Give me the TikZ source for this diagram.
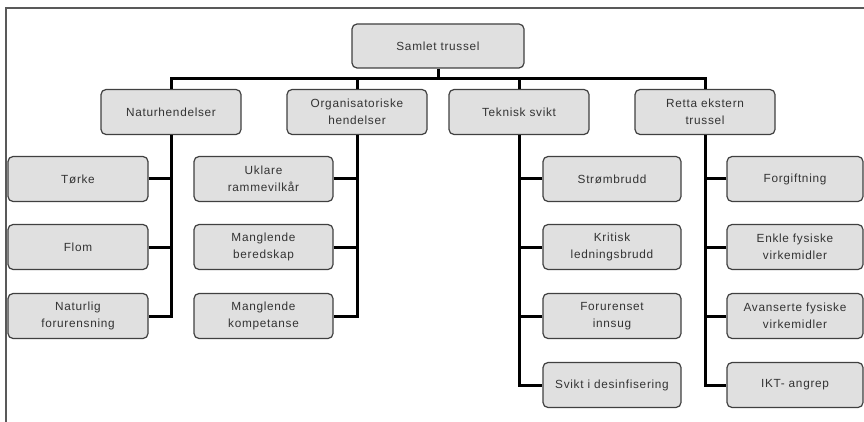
\documentclass[tikz,border=0pt]{standalone}
\usepackage{fontspec}
\setmainfont{Liberation Sans}[LetterSpace=6]
\begin{document}
\begin{tikzpicture}[x=1pt,y=-1pt,
  box/.style={draw=black!75, line width=1.2pt, fill=black!12, rounded corners=5pt,
    minimum width=140pt, minimum height=45pt, inner sep=0pt, align=center,
    text width=136pt, text=black!80, font=\fontsize{11.8}{17.5}\selectfont},
  conn/.style={line width=3pt, black}]
\useasboundingbox (0,0) rectangle (864,422);
\draw[black!65, line width=1.3pt] (6,422) -- (6,8) -- (864,8);
% root
\node[box, minimum width=172pt, text width=168pt, minimum height=44pt] (root) at (438,46) {Samlet trussel};
% level 1
\node[box] (nat) at (171,112) {Naturhendelser};
\node[box] (org) at (357,112) {Organisatoriske\\hendelser};
\node[box] (tek) at (519,112) {Teknisk svikt};
\node[box] (ret) at (705,112) {Retta ekstern\\trussel};
% level 2
\node[box] (nat1) at (78,179) {Tørke};
\node[box] (nat2) at (78,247) {Flom};
\node[box] (nat3) at (78,316) {Naturlig\\forurensning};
\node[box, minimum width=139pt] (org1) at (263.5,179) {Uklare\\rammevilkår};
\node[box, minimum width=139pt] (org2) at (263.5,247) {Manglende\\beredskap};
\node[box, minimum width=139pt] (org3) at (263.5,316) {Manglende\\kompetanse};
\node[box, minimum width=138pt] (tek1) at (612,179) {Strømbrudd};
\node[box, minimum width=138pt] (tek2) at (612,247) {Kritisk\\ledningsbrudd};
\node[box, minimum width=138pt] (tek3) at (612,316) {Forurenset\\innsug};
\node[box, minimum width=138pt] (tek4) at (612,385) {Svikt i desinfisering};
\node[box, minimum width=134pt] (ret1) at (795,179) {Forgiftning};
\node[box, minimum width=134pt] (ret2) at (795,247) {Enkle fysiske\\virkemidler};
\node[box, minimum width=134pt] (ret3) at (795,316) {Avanserte fysiske\\virkemidler};
\node[box, minimum width=134pt] (ret4) at (795,385) {IKT- angrep};
\coordinate (bar) at (0,79);
% connectors
\draw[conn] (root.south) -- (root.south |- bar);
\draw[conn] (nat.north) -- (nat.north |- bar) -- (ret.north |- bar) -- (ret.north);
\draw[conn] (org.north) -- (org.north |- bar);
\draw[conn] (tek.north) -- (tek.north |- bar);
\draw[conn] (nat.south) |- (nat3.east);
\draw[conn] (nat1.east) -- (nat1.east -| nat.south);
\draw[conn] (nat2.east) -- (nat2.east -| nat.south);
\draw[conn] (org.south) |- (org3.east);
\draw[conn] (org1.east) -- (org1.east -| org.south);
\draw[conn] (org2.east) -- (org2.east -| org.south);
\draw[conn] (tek.south) |- (tek4.west);
\draw[conn] (tek1.west) -- (tek1.west -| tek.south);
\draw[conn] (tek2.west) -- (tek2.west -| tek.south);
\draw[conn] (tek3.west) -- (tek3.west -| tek.south);
\draw[conn] (ret.south) |- (ret4.west);
\draw[conn] (ret1.west) -- (ret1.west -| ret.south);
\draw[conn] (ret2.west) -- (ret2.west -| ret.south);
\draw[conn] (ret3.west) -- (ret3.west -| ret.south);
\end{tikzpicture}
\end{document}
